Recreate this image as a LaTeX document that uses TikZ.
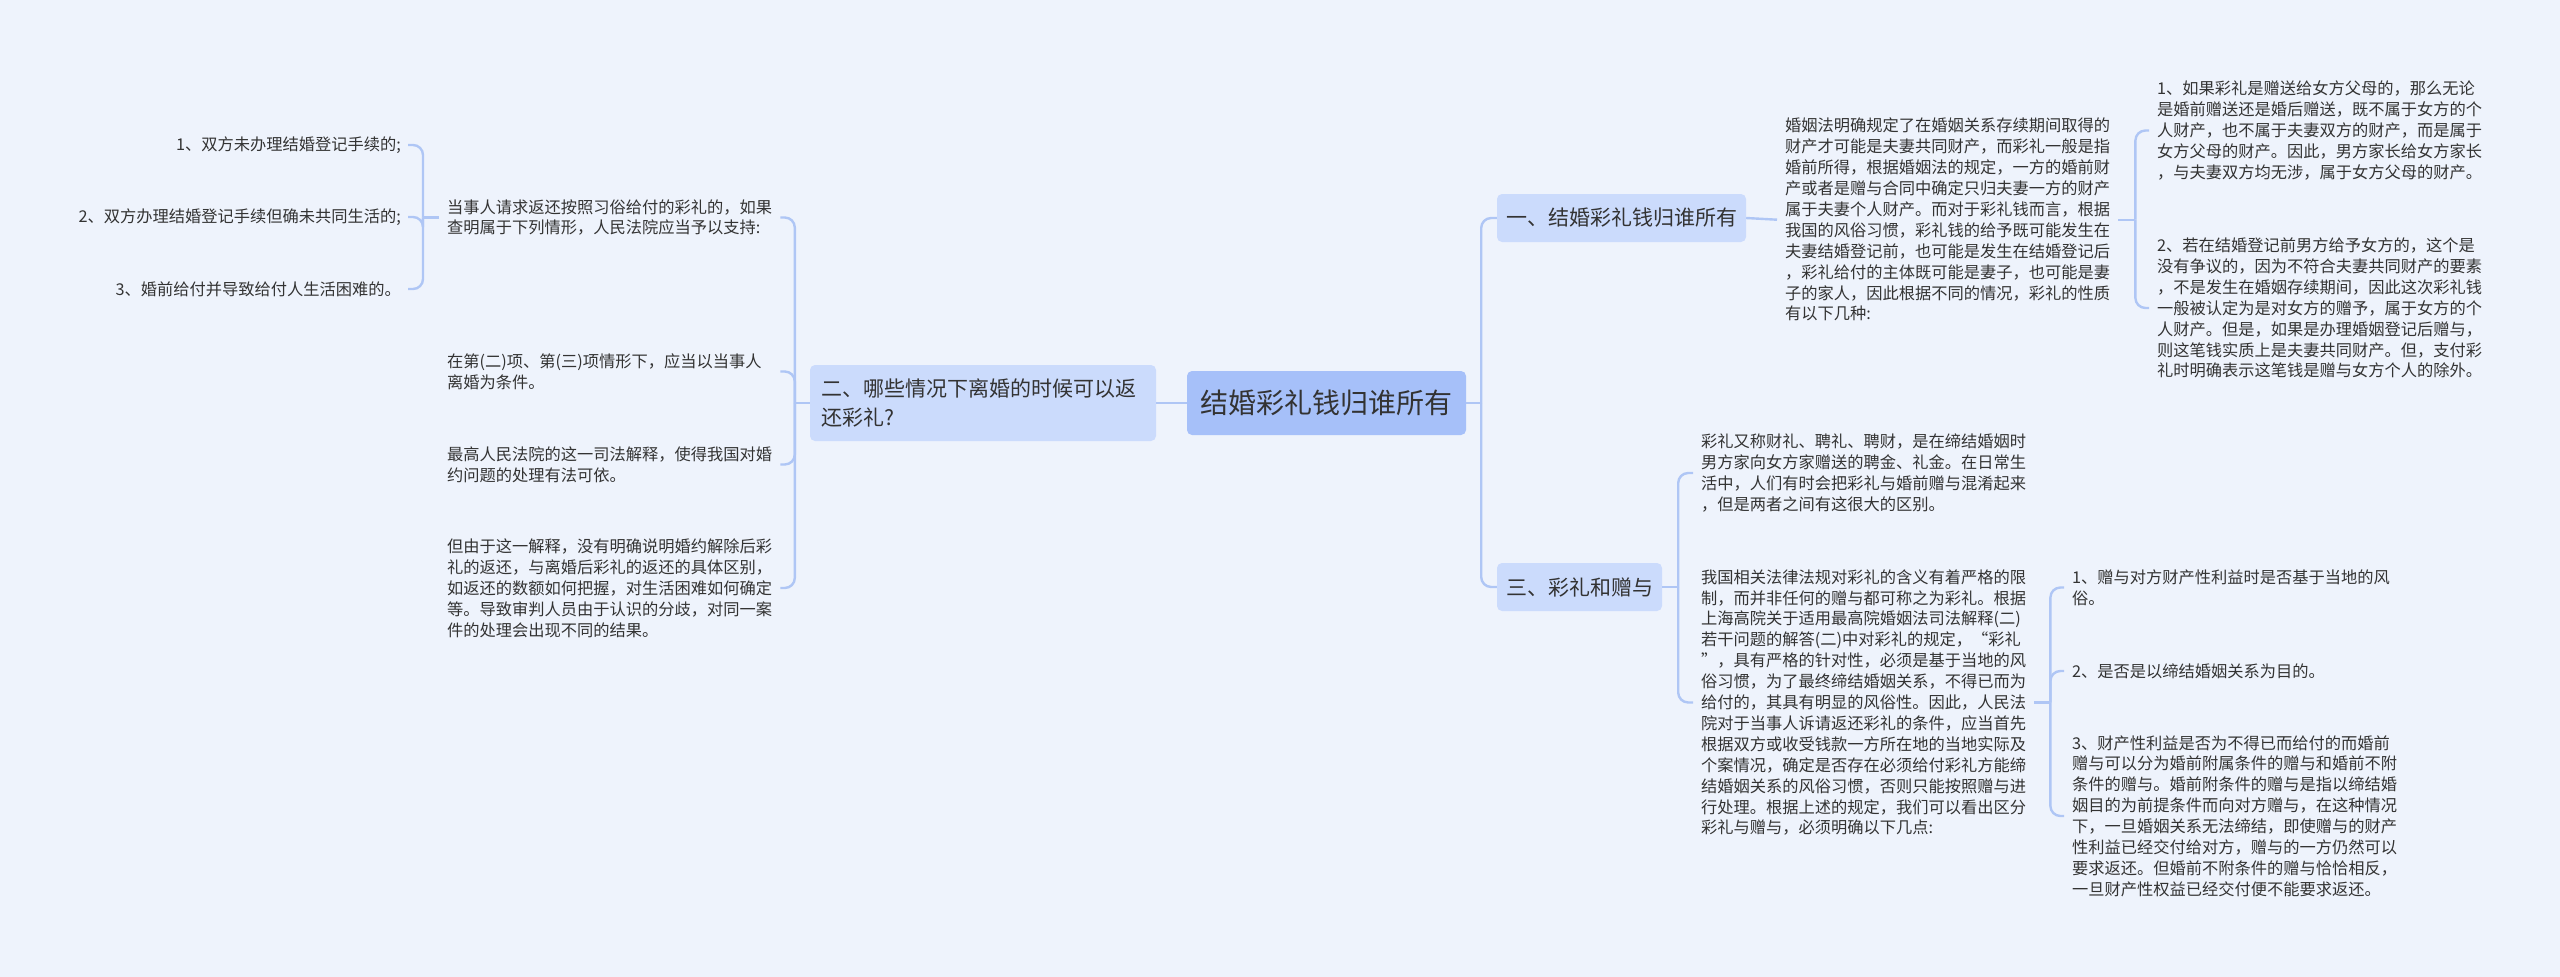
\documentclass[tikz,border=0pt]{standalone}
\usepackage{fontspec}
\setmainfont{Noto Sans CJK SC}
\usetikzlibrary{positioning}

\definecolor{pagebg}{HTML}{EEF3FC}
\definecolor{rootfill}{HTML}{A6C0F9}
\definecolor{topicfill}{HTML}{CBDBFC}
\definecolor{linkcol}{HTML}{AFC6F5}
\definecolor{inkcol}{HTML}{333333}

\tikzset{
  rootbox/.style={rectangle, rounded corners=5pt, fill=rootfill, text=inkcol, minimum width=279pt, minimum height=64pt, inner sep=0pt, font=\fontsize{28}{36}\selectfont},
  topicbox/.style={rectangle, rounded corners=5pt, fill=topicfill, text=inkcol, inner sep=0pt, font=\fontsize{21}{29}\selectfont},
  para/.style={rectangle, anchor=west, text=inkcol, text width=325pt, align=left, inner xsep=8pt, inner ysep=0pt, font=\fontsize{16.25}{20.9}\selectfont},
  item/.style={rectangle, anchor=east, text=inkcol, inner xsep=7pt, inner ysep=0pt, font=\fontsize{16.25}{20.9}\selectfont},
  link/.style={draw=linkcol, line width=2.4pt, rounded corners=10pt}
}

\begin{document}
\begin{tikzpicture}[x=1pt, y=-1pt]
  \path[fill=pagebg, use as bounding box] (0,0) rectangle (2560,977);

  \node (root) [rootbox] at (1326.5,403) {结婚彩礼钱归谁所有};
  \node (er) [topicbox, minimum width=346pt, minimum height=76pt, align=left, text width=324pt] at (983,403) {二、哪些情况下离婚的时候可以返\\还彩礼?};
  \node (yi) [topicbox, minimum width=249pt, minimum height=48pt] at (1621.5,218) {一、结婚彩礼钱归谁所有};
  \node (san) [topicbox, minimum width=165pt, minimum height=48pt] at (1579.5,587) {三、彩礼和赠与};

  \node (yiText) [para] at (1777,219.7) {婚姻法明确规定了在婚姻关系存续期间取得的\\财产才可能是夫妻共同财产，而彩礼一般是指\\婚前所得，根据婚姻法的规定，一方的婚前财\\产或者是赠与合同中确定只归夫妻一方的财产\\属于夫妻个人财产。而对于彩礼钱而言，根据\\我国的风俗习惯，彩礼钱的给予既可能发生在\\夫妻结婚登记前，也可能是发生在结婚登记后\\，彩礼给付的主体既可能是妻子，也可能是妻\\子的家人，因此根据不同的情况，彩礼的性质\\有以下几种:};
  \node (parents) [para] at (2149,130.5) {1、如果彩礼是赠送给女方父母的，那么无论\\是婚前赠送还是婚后赠送，既不属于女方的个\\人财产，也不属于夫妻双方的财产，而是属于\\女方父母的财产。因此，男方家长给女方家长\\，与夫妻双方均无涉，属于女方父母的财产。};
  \node (couple) [para] at (2149,308) {2、若在结婚登记前男方给予女方的，这个是\\没有争议的，因为不符合夫妻共同财产的要素\\，不是发生在婚姻存续期间，因此这次彩礼钱\\一般被认定为是对女方的赠予，属于女方的个\\人财产。但是，如果是办理婚姻登记后赠与，\\则这笔钱实质上是夫妻共同财产。但，支付彩\\礼时明确表示这笔钱是赠与女方个人的除外。};

  \node (define) [para] at (1693,473) {彩礼又称财礼、聘礼、聘财，是在缔结婚姻时\\男方家向女方家赠送的聘金、礼金。在日常生\\活中，人们有时会把彩礼与婚前赠与混淆起来\\，但是两者之间有这很大的区别。};
  \node (differ) [para] at (1693,702.5) {我国相关法律法规对彩礼的含义有着严格的限\\制，而并非任何的赠与都可称之为彩礼。根据\\上海高院关于适用最高院婚姻法司法解释(二)\\若干问题的解答(二)中对彩礼的规定，“彩礼\\”，具有严格的针对性，必须是基于当地的风\\俗习惯，为了最终缔结婚姻关系，不得已而为\\给付的，其具有明显的风俗性。因此，人民法\\院对于当事人诉请返还彩礼的条件，应当首先\\根据双方或收受钱款一方所在地的当地实际及\\个案情况，确定是否存在必须给付彩礼方能缔\\结婚姻关系的风俗习惯，否则只能按照赠与进\\行处理。根据上述的规定，我们可以看出区分\\彩礼与赠与，必须明确以下几点:};
  \node (pointA) [para] at (2064,587.5) {1、赠与对方财产性利益时是否基于当地的风\\俗。};
  \node (pointB) [para] at (2064,671) {2、是否是以缔结婚姻关系为目的。};
  \node (pointC) [para] at (2064,816) {3、财产性利益是否为不得已而给付的而婚前\\赠与可以分为婚前附属条件的赠与和婚前不附\\条件的赠与。婚前附条件的赠与是指以缔结婚\\姻目的为前提条件而向对方赠与，在这种情况\\下，一旦婚姻关系无法缔结，即使赠与的财产\\性利益已经交付给对方，赠与的一方仍然可以\\要求返还。但婚前不附条件的赠与恰恰相反，\\一旦财产性权益已经交付便不能要求返还。};

  \node (claim) [para] at (439,217.5) {当事人请求返还按照习俗给付的彩礼的，如果\\查明属于下列情形，人民法院应当予以支持:};
  \node (terms) [para] at (439,371.5) {在第(二)项、第(三)项情形下，应当以当事人\\离婚为条件。};
  \node (court) [para] at (439,464.5) {最高人民法院的这一司法解释，使得我国对婚\\约问题的处理有法可依。};
  \node (issue) [para] at (439,588) {但由于这一解释，没有明确说明婚约解除后彩\\礼的返还，与离婚后彩礼的返还的具体区别，\\如返还的数额如何把握，对生活困难如何确定\\等。导致审判人员由于认识的分歧，对同一案\\件的处理会出现不同的结果。};
  \node (caseA) [item] at (408,145) {1、双方未办理结婚登记手续的;};
  \node (caseB) [item] at (408,217) {2、双方办理结婚登记手续但确未共同生活的;};
  \node (caseC) [item] at (408,289) {3、婚前给付并导致给付人生活困难的。};

  \draw[link] (root.west) -- (er.east);
  \draw[link] (root.east) -- ++(15,0) coordinate (rootBus);
  \foreach \kid in {yi,san}
    \draw[link] (rootBus) |- (\kid.west);

  \draw[link] (yi.east) -- (yiText.west);
  \draw[link] (yiText.east) -- ++(17,0) coordinate (yiBus);
  \foreach \kid in {parents,couple}
    \draw[link] (yiBus) |- (\kid.west);

  \draw[link] (san.east) -- ++(16,0) coordinate (sanBus);
  \foreach \kid in {define,differ}
    \draw[link] (sanBus) |- (\kid.west);

  \draw[link] (differ.east) -- ++(16,0) coordinate (differBus);
  \foreach \kid in {pointA,pointB,pointC}
    \draw[link] (differBus) |- (\kid.west);

  \draw[link] (er.west) -- ++(-15,0) coordinate (erBus);
  \foreach \kid in {claim,terms,court,issue}
    \draw[link] (erBus) |- (\kid.east);

  \draw[link] (claim.west) -- ++(-16,0) coordinate (claimBus);
  \foreach \kid in {caseA,caseB,caseC}
    \draw[link] (claimBus) |- (\kid.east);
\end{tikzpicture}
\end{document}
